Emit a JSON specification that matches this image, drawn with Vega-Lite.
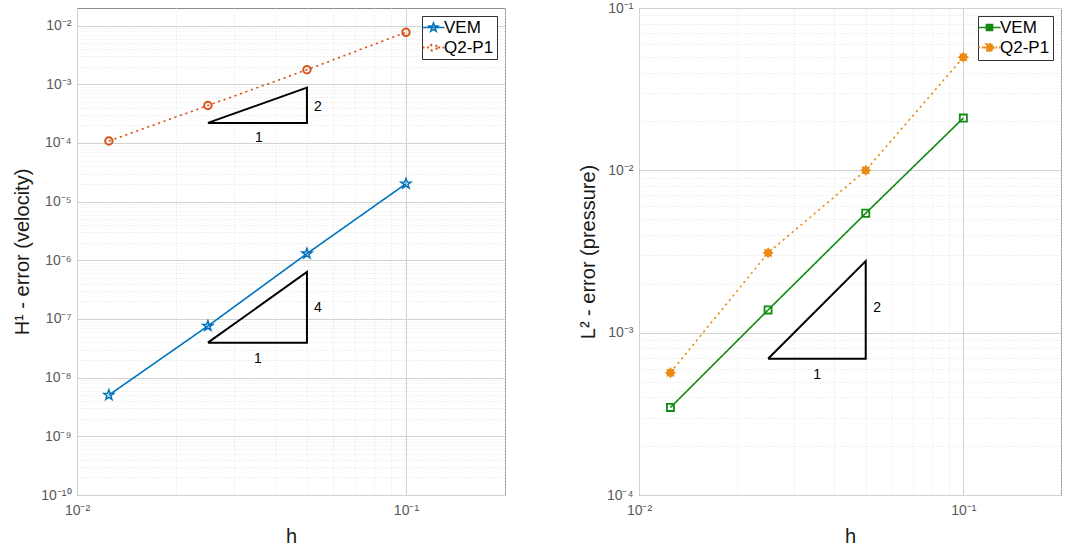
{
  "$schema": "https://vega.github.io/schema/vega-lite/v6.json",
  "background": "white",
  "padding": {"left": 12, "top": 0, "right": 0, "bottom": 0},
  "spacing": 71,
  "datasets": {
    "left": [
      {"h": 0.0125, "err": 5.05e-9, "series": "VEM"},
      {"h": 0.025, "err": 7.6e-8, "series": "VEM"},
      {"h": 0.05, "err": 1.3e-6, "series": "VEM"},
      {"h": 0.1, "err": 2.02e-5, "series": "VEM"},
      {"h": 0.0125, "err": 1.08e-4, "series": "Q2-P1"},
      {"h": 0.025, "err": 4.35e-4, "series": "Q2-P1"},
      {"h": 0.05, "err": 1.77e-3, "series": "Q2-P1"},
      {"h": 0.1, "err": 7.7e-3, "series": "Q2-P1"}
    ],
    "leftTri": [
      {"h": 0.025, "err": 2.2e-4, "ord": 1, "tri": "a"},
      {"h": 0.05, "err": 2.2e-4, "ord": 2, "tri": "a"},
      {"h": 0.05, "err": 8.8e-4, "ord": 3, "tri": "a"},
      {"h": 0.025, "err": 2.2e-4, "ord": 4, "tri": "a"},
      {"h": 0.025, "err": 3.95e-8, "ord": 1, "tri": "b"},
      {"h": 0.05, "err": 3.95e-8, "ord": 2, "tri": "b"},
      {"h": 0.05, "err": 6.32e-7, "ord": 3, "tri": "b"},
      {"h": 0.025, "err": 3.95e-8, "ord": 4, "tri": "b"}
    ],
    "leftTxt": [
      {"h": 0.054, "err": 4.15e-4, "label": "2"},
      {"h": 0.0357, "err": 1.23e-4, "label": "1"},
      {"h": 0.054, "err": 1.56e-7, "label": "4"},
      {"h": 0.0355, "err": 2.1e-8, "label": "1"}
    ],
    "right": [
      {"h": 0.0125, "err": 3.46e-4, "series": "VEM"},
      {"h": 0.025, "err": 1.38e-3, "series": "VEM"},
      {"h": 0.05, "err": 5.44e-3, "series": "VEM"},
      {"h": 0.1, "err": 0.021, "series": "VEM"},
      {"h": 0.0125, "err": 5.66e-4, "series": "Q2-P1"},
      {"h": 0.025, "err": 3.1e-3, "series": "Q2-P1"},
      {"h": 0.05, "err": 0.01, "series": "Q2-P1"},
      {"h": 0.1, "err": 0.0497, "series": "Q2-P1"}
    ],
    "rightTri": [
      {"h": 0.025, "err": 6.9e-4, "ord": 1, "tri": "a"},
      {"h": 0.05, "err": 6.9e-4, "ord": 2, "tri": "a"},
      {"h": 0.05, "err": 2.76e-3, "ord": 3, "tri": "a"},
      {"h": 0.025, "err": 6.9e-4, "ord": 4, "tri": "a"}
    ],
    "rightTxt": [
      {"h": 0.0542, "err": 1.42e-3, "label": "2"},
      {"h": 0.0354, "err": 5.47e-4, "label": "1"}
    ]
  },
  "hconcat": [
    {
      "width": 428,
      "height": 487,
      "layer": [
        {
          "data": {"name": "left"},
          "mark": {"type": "line", "strokeWidth": 1.6},
          "encoding": {
            "x": {"field": "h", "type": "quantitative",
              "scale": {"type": "log", "domain": [0.01, 0.2], "nice": false},
              "axis": {"orient": "bottom", "title": "h", "grid": true,
                "values": [0.01, 0.02, 0.03, 0.04, 0.05, 0.06, 0.07, 0.08, 0.09, 0.1, 0.2],
                "gridColor": {"condition": {"test": "datum.value == 0.01 || datum.value == 0.1", "value": "#d2d2d2"}, "value": "#e4e4e4"},
                "gridDash": {"condition": {"test": "datum.value == 0.01 || datum.value == 0.1", "value": []}, "value": [1, 2]},
                "labelExpr": "datum.value == 0.01 ? '10⁻²' : (datum.value == 0.1 ? '10⁻¹' : '')",
                "ticks": false, "labelPadding": 8, "titlePadding": 9}},
            "y": {"field": "err", "type": "quantitative",
              "scale": {"type": "log", "domain": [1e-10, 0.02], "nice": false},
              "axis": {"orient": "left", "title": "H¹ - error (velocity)", "grid": true,
                "values": [1e-10, 2e-10, 3e-10, 4e-10, 5e-10, 6e-10, 7e-10, 8e-10, 9e-10,
                  1e-9, 2e-9, 3e-9, 4e-9, 5e-9, 6e-9, 7e-9, 8e-9, 9e-9,
                  1e-8, 2e-8, 3e-8, 4e-8, 5e-8, 6e-8, 7e-8, 8e-8, 9e-8,
                  1e-7, 2e-7, 3e-7, 4e-7, 5e-7, 6e-7, 7e-7, 8e-7, 9e-7,
                  1e-6, 2e-6, 3e-6, 4e-6, 5e-6, 6e-6, 7e-6, 8e-6, 9e-6,
                  1e-5, 2e-5, 3e-5, 4e-5, 5e-5, 6e-5, 7e-5, 8e-5, 9e-5,
                  1e-4, 2e-4, 3e-4, 4e-4, 5e-4, 6e-4, 7e-4, 8e-4, 9e-4,
                  1e-3, 2e-3, 3e-3, 4e-3, 5e-3, 6e-3, 7e-3, 8e-3, 9e-3, 1e-2],
                "gridColor": {"condition": {"test": "abs(log(datum.value)/LN10 - round(log(datum.value)/LN10)) < 0.001", "value": "#d2d2d2"}, "value": "#e4e4e4"},
                "gridDash": {"condition": {"test": "abs(log(datum.value)/LN10 - round(log(datum.value)/LN10)) < 0.001", "value": []}, "value": [1, 2]},
                "labelExpr": "abs(log(datum.value)/LN10 - round(log(datum.value)/LN10)) > 0.001 ? '' : '10' + ['⁰','⁻¹','⁻²','⁻³','⁻⁴','⁻⁵','⁻⁶','⁻⁷','⁻⁸','⁻⁹','⁻¹⁰'][round(-log(datum.value)/LN10)]",
                "ticks": false, "labelPadding": 6, "titlePadding": 8}},
            "color": {"field": "series", "type": "nominal",
              "scale": {"domain": ["VEM", "Q2-P1"], "range": ["#0072BD", "#D95319"]},
              "legend": {
                "title": null, "orient": "top-right", "offset": 8, "padding": 3,
                "fillColor": "white", "strokeColor": "#333333",
                "labelFontSize": 17, "labelColor": "#000000", "labelOffset": 2,
                "symbolSize": 484, "rowPadding": 2,
                "encode": {"symbols": {"update": {
                  "shape": {"signal": "datum.value == 'VEM' ? 'M-1,0H1M0,-0.42L0.1,-0.138L0.399,-0.13L0.162,0.053L0.247,0.34L0,0.17L-0.247,0.34L-0.162,0.053L-0.399,-0.13L-0.1,-0.138Z' : 'M-1,0H-0.82M-0.6,0H-0.42M0.42,0H0.6M0.82,0H1M0.3,0A0.3,0.3,0,1,1,-0.3,0A0.3,0.3,0,1,1,0.3,0Z'"},
                  "size": {"value": 484},
                  "stroke": {"signal": "datum.value == 'VEM' ? '#0072BD' : '#D95319'"},
                  "fill": {"value": "transparent"},
                  "strokeWidth": {"signal": "datum.value == 'VEM' ? 1.5 : 2"},
                  "opacity": {"value": 1}
                }}}
              }},
            "strokeDash": {"field": "series", "type": "nominal",
              "scale": {"domain": ["VEM", "Q2-P1"], "range": [[1, 0], [2.2, 3.6]]}, "legend": null}
          }
        },
        {
          "data": {"name": "left"},
          "transform": [{"filter": "datum.series == 'VEM'"}],
          "mark": {"type": "point", "shape": "M0,-1L0.235,-0.324L0.951,-0.309L0.38,0.124L0.588,0.809L0,0.4L-0.588,0.809L-0.38,0.124L-0.951,-0.309L-0.235,-0.324Z", "filled": false, "size": 110, "strokeWidth": 1.5, "opacity": 1},
          "encoding": {
            "x": {"field": "h", "type": "quantitative"},
            "y": {"field": "err", "type": "quantitative"},
            "color": {"field": "series", "type": "nominal"}
          }
        },
        {
          "data": {"name": "left"},
          "transform": [{"filter": "datum.series == 'Q2-P1'"}],
          "mark": {"type": "point", "shape": "circle", "filled": false, "size": 55, "strokeWidth": 2, "opacity": 1},
          "encoding": {
            "x": {"field": "h", "type": "quantitative"},
            "y": {"field": "err", "type": "quantitative"},
            "color": {"field": "series", "type": "nominal"}
          }
        },
        {
          "data": {"name": "leftTri"},
          "mark": {"type": "line", "color": "#000000", "strokeWidth": 2},
          "encoding": {
            "x": {"field": "h", "type": "quantitative"},
            "y": {"field": "err", "type": "quantitative"},
            "detail": {"field": "tri", "type": "nominal"},
            "order": {"field": "ord", "type": "quantitative"}
          }
        },
        {
          "data": {"name": "leftTxt"},
          "mark": {"type": "text", "fontSize": 14, "color": "#000000", "align": "center", "baseline": "middle"},
          "encoding": {
            "x": {"field": "h", "type": "quantitative"},
            "y": {"field": "err", "type": "quantitative"},
            "text": {"field": "label", "type": "nominal"}
          }
        }
      ]
    },
    {
      "width": 422,
      "height": 487,
      "layer": [
        {
          "data": {"name": "right"},
          "mark": {"type": "line", "strokeWidth": 1.6},
          "encoding": {
            "x": {"field": "h", "type": "quantitative",
              "scale": {"type": "log", "domain": [0.01, 0.2], "nice": false},
              "axis": {"orient": "bottom", "title": "h", "grid": true,
                "values": [0.01, 0.02, 0.03, 0.04, 0.05, 0.06, 0.07, 0.08, 0.09, 0.1, 0.2],
                "gridColor": {"condition": {"test": "datum.value == 0.01 || datum.value == 0.1", "value": "#d2d2d2"}, "value": "#e4e4e4"},
                "gridDash": {"condition": {"test": "datum.value == 0.01 || datum.value == 0.1", "value": []}, "value": [1, 2]},
                "labelExpr": "datum.value == 0.01 ? '10⁻²' : (datum.value == 0.1 ? '10⁻¹' : '')",
                "ticks": false, "labelPadding": 8, "titlePadding": 9}},
            "y": {"field": "err", "type": "quantitative",
              "scale": {"type": "log", "domain": [1e-4, 0.1], "nice": false},
              "axis": {"orient": "left", "title": "L² - error (pressure)", "grid": true,
                "values": [1e-4, 2e-4, 3e-4, 4e-4, 5e-4, 6e-4, 7e-4, 8e-4, 9e-4,
                  1e-3, 2e-3, 3e-3, 4e-3, 5e-3, 6e-3, 7e-3, 8e-3, 9e-3,
                  0.01, 0.02, 0.03, 0.04, 0.05, 0.06, 0.07, 0.08, 0.09, 0.1],
                "gridColor": {"condition": {"test": "abs(log(datum.value)/LN10 - round(log(datum.value)/LN10)) < 0.001", "value": "#d2d2d2"}, "value": "#e4e4e4"},
                "gridDash": {"condition": {"test": "abs(log(datum.value)/LN10 - round(log(datum.value)/LN10)) < 0.001", "value": []}, "value": [1, 2]},
                "labelExpr": "abs(log(datum.value)/LN10 - round(log(datum.value)/LN10)) > 0.001 ? '' : '10' + ['⁰','⁻¹','⁻²','⁻³','⁻⁴','⁻⁵','⁻⁶','⁻⁷','⁻⁸','⁻⁹','⁻¹⁰'][round(-log(datum.value)/LN10)]",
                "ticks": false, "labelPadding": 6, "titlePadding": 8}},
            "color": {"field": "series", "type": "nominal",
              "scale": {"domain": ["VEM", "Q2-P1"], "range": ["#108A10", "#EA8A14"]},
              "legend": {
                "title": null, "orient": "top-right", "offset": 8, "padding": 3,
                "fillColor": "white", "strokeColor": "#333333",
                "labelFontSize": 17, "labelColor": "#000000", "labelOffset": 2,
                "symbolSize": 484, "rowPadding": 2,
                "encode": {"symbols": {"update": {
                  "shape": {"signal": "datum.value == 'VEM' ? 'M-1,0H1M-0.28,-0.28H0.28V0.28H-0.28Z' : 'M-1,0H-0.85M-0.7,0H-0.55M0.55,0H0.7M0.85,0H1M0.45,0L0.268,0.111L0.318,0.318L0.111,0.268L0,0.45L-0.111,0.268L-0.318,0.318L-0.268,0.111L-0.45,0L-0.268,-0.111L-0.318,-0.318L-0.111,-0.268L0,-0.45L0.111,-0.268L0.318,-0.318L0.268,-0.111Z'"},
                  "size": {"value": 484},
                  "stroke": {"signal": "datum.value == 'VEM' ? '#108A10' : '#EA8A14'"},
                  "fill": {"signal": "datum.value == 'VEM' ? 'transparent' : '#EA8A14'"},
                  "strokeWidth": {"signal": "datum.value == 'VEM' ? 1.5 : 2"},
                  "opacity": {"value": 1}
                }}}
              }},
            "strokeDash": {"field": "series", "type": "nominal",
              "scale": {"domain": ["VEM", "Q2-P1"], "range": [[1, 0], [2.2, 3.6]]}, "legend": null}
          }
        },
        {
          "data": {"name": "right"},
          "transform": [{"filter": "datum.series == 'VEM'"}],
          "mark": {"type": "point", "shape": "square", "filled": false, "size": 50, "strokeWidth": 1.8, "opacity": 1},
          "encoding": {
            "x": {"field": "h", "type": "quantitative"},
            "y": {"field": "err", "type": "quantitative"},
            "color": {"field": "series", "type": "nominal"}
          }
        },
        {
          "data": {"name": "right"},
          "transform": [{"filter": "datum.series == 'Q2-P1'"}],
          "mark": {"type": "point", "shape": "M1,0L0.6,0.25L0.707,0.707L0.25,0.6L0,1L-0.25,0.6L-0.707,0.707L-0.6,0.25L-1,0L-0.6,-0.25L-0.707,-0.707L-0.25,-0.6L0,-1L0.25,-0.6L0.707,-0.707L0.6,-0.25Z", "filled": true, "size": 130, "opacity": 1},
          "encoding": {
            "x": {"field": "h", "type": "quantitative"},
            "y": {"field": "err", "type": "quantitative"},
            "color": {"field": "series", "type": "nominal"}
          }
        },
        {
          "data": {"name": "rightTri"},
          "mark": {"type": "line", "color": "#000000", "strokeWidth": 2},
          "encoding": {
            "x": {"field": "h", "type": "quantitative"},
            "y": {"field": "err", "type": "quantitative"},
            "detail": {"field": "tri", "type": "nominal"},
            "order": {"field": "ord", "type": "quantitative"}
          }
        },
        {
          "data": {"name": "rightTxt"},
          "mark": {"type": "text", "fontSize": 14, "color": "#000000", "align": "center", "baseline": "middle"},
          "encoding": {
            "x": {"field": "h", "type": "quantitative"},
            "y": {"field": "err", "type": "quantitative"},
            "text": {"field": "label", "type": "nominal"}
          }
        }
      ]
    }
  ],
  "resolve": {
    "scale": {"color": "independent", "strokeDash": "independent"},
    "legend": {"color": "independent"}
  },
  "config": {
    "font": "Liberation Sans",
    "view": {"stroke": "#8c8c8c", "strokeWidth": 1},
    "axis": {
      "domain": false,
      "labelFontSize": 14,
      "labelColor": "#595959",
      "titleColor": "#1a1a1a",
      "titleFontSize": 20,
      "titleFontWeight": "normal",
      "labelFlush": false,
      "labelOverlap": false
    }
  }
}
